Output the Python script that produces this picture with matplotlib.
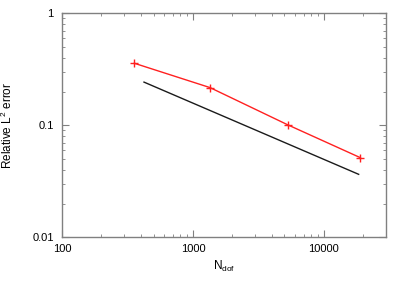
# Convergence plot: relative L2 error vs number of dofs (log-log)

import matplotlib
matplotlib.use("Agg")
import matplotlib.pyplot as plt
from matplotlib.ticker import FixedLocator, FixedFormatter, LogLocator, NullFormatter

plt.rcParams["font.family"] = ["Liberation Sans", "DejaVu Sans"]
plt.rcParams["mathtext.fontset"] = "custom"
plt.rcParams["mathtext.rm"] = "Liberation Sans"
plt.rcParams["mathtext.it"] = "Liberation Sans"

# computed errors
n_dof = [357, 1352, 5300, 19000]
rel_error = [0.358, 0.217, 0.101, 0.0514]

# reference slope -1/2 line
ref_n = [423, 18450]
ref_error = [0.243, 0.0365]

x_ticks = [100, 1000, 10000]
x_tick_labels = ["100", "1000", "10000"]
y_ticks = [0.01, 0.1, 1]
y_tick_labels = ["0.01", "0.1", "1"]

frame = "#808080"

fig = plt.figure(figsize=(4.07, 2.85), dpi=100)
ax = fig.add_axes([62 / 407, 1 - 237.3 / 285, (386.3 - 62) / 407, (237.3 - 13.3) / 285])

ax.plot(n_dof, rel_error, color="#ff2020", linewidth=1.0, marker="+",
        markersize=6, markeredgewidth=1.0)
ax.plot(ref_n, ref_error, color="#1a1a1a", linewidth=1.0)

ax.set_xscale("log")
ax.set_yscale("log")
ax.set_xlim(100, 30000)
ax.set_ylim(0.01, 1)

ax.xaxis.set_major_locator(FixedLocator(x_ticks))
ax.xaxis.set_major_formatter(FixedFormatter(x_tick_labels))
ax.yaxis.set_major_locator(FixedLocator(y_ticks))
ax.yaxis.set_major_formatter(FixedFormatter(y_tick_labels))
ax.xaxis.set_minor_locator(LogLocator(base=10, subs=range(2, 10)))
ax.yaxis.set_minor_locator(LogLocator(base=10, subs=range(2, 10)))
ax.xaxis.set_minor_formatter(NullFormatter())
ax.yaxis.set_minor_formatter(NullFormatter())

ax.tick_params(which="both", direction="in", top=True, right=True,
               color=frame, labelsize=8, labelcolor="black")
ax.tick_params(which="major", length=5, width=0.8)
ax.tick_params(which="minor", length=2.5, width=0.6)
ax.tick_params(axis="x", pad=5)
ax.tick_params(axis="y", pad=6)

for s in ax.spines.values():
    s.set_color(frame)
    s.set_linewidth(1.0)

ax.set_xlabel("N$_{\\mathrm{dof}}$", fontsize=8.5, labelpad=3.5)
ax.set_ylabel("Relative L$^{2}$ error", fontsize=8.5, labelpad=12)

fig.savefig("out.png", dpi=100)
